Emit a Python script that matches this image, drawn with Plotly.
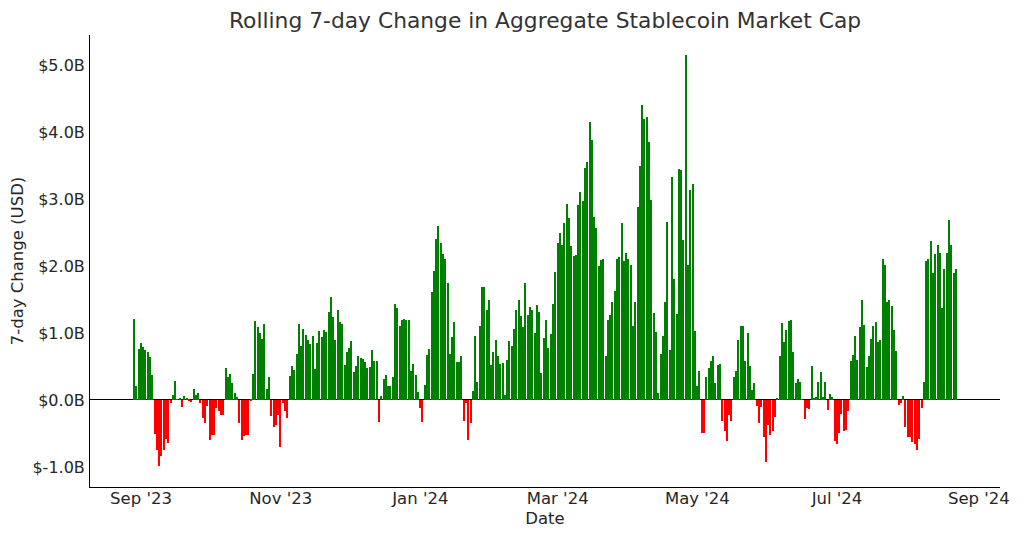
import pandas as pd
import plotly.graph_objects as go

start_date = "2023-08-29"

change_bn = [
    1.21, 0.21, 0.76, 0.85, 0.79, 0.74, 0.72, 0.64, 0.38, -0.51,
    -0.75, -0.98, -0.83, -0.75, -0.59, -0.65, -0.05, 0.08, 0.28, 0.01,
    0.03, -0.11, 0.06, 0.035, -0.01, -0.03, 0.17, 0.08, 0.10, -0.05,
    -0.27, -0.34, -0.09, -0.60, -0.52, -0.52, -0.12, -0.16, -0.22, -0.23,
    0.47, 0.35, 0.39, 0.25, 0.10, 0.045, -0.35, -0.60, -0.54, -0.53,
    -0.53, -0.01, 0.39, 1.18, 1.09, 1.00, 0.91, 1.13, 0.17, 0.35,
    -0.24, -0.41, -0.37, -0.22, -0.70, -0.05, -0.17, -0.27, 0.36, 0.50,
    0.44, 0.69, 1.13, 0.81, 1.06, 0.97, 0.90, 0.83, 0.95, 0.46,
    0.85, 1.03, 0.94, 1.04, 1.01, 1.31, 1.54, 1.24, 0.90, 1.35,
    1.17, 1.14, 0.52, 0.72, 0.78, 0.88, 0.41, 0.50, 0.65, 0.62,
    0.61, 0.56, 0.47, 0.49, 0.75, 0.58, 0.58, -0.33, 0.06, 0.31,
    0.38, 0.21, 0.21, 0.35, 1.44, 1.37, 1.10, 1.19, 1.21, 1.19,
    1.19, 0.43, 0.53, 0.37, 0.12, -0.12, -0.33, 0.22, 0.67, 0.76,
    1.61, 1.93, 2.40, 2.60, 2.35, 2.18, 2.11, 1.74, 0.68, 0.94,
    1.17, 0.57, 0.57, 0.65, -0.31, -0.04, -0.60, -0.35, 0.13, 0.96,
    0.27, 1.10, 1.69, 1.69, 1.34, 1.49, 0.52, 0.71, 0.90, 0.65,
    0.53, 0.55, 0.07, 0.60, 0.88, 0.81, 1.06, 1.34, 1.50, 1.25,
    1.09, 1.74, 1.27, 1.39, 1.34, 1.00, 1.42, 1.32, 0.40, 0.92,
    1.19, 0.77, 0.99, 1.43, 1.91, 2.35, 2.50, 2.32, 2.65, 2.92,
    2.72, 2.30, 2.15, 2.16, 2.91, 3.11, 2.97, 3.46, 3.55, 4.15,
    3.88, 2.73, 2.57, 2.00, 2.09, 2.11, 0.66, 1.20, 1.27, 1.46,
    1.62, 2.11, 2.14, 2.64, 2.08, 2.19, 2.10, 2.01, 1.11, 1.47,
    2.88, 3.50, 4.41, 4.20, 4.23, 3.85, 2.98, 1.30, 1.01, 0.11,
    0.69, 0.95, 1.46, 2.66, 0.75, 3.33, 1.80, 1.29, 3.45, 3.44,
    2.39, 5.15, 2.01, 3.14, 3.22, 1.03, 0.21, 0.43, -0.49, -0.49,
    0.35, 0.48, 0.58, 0.66, 0.25, 0.52, 0.53, -0.32, -0.47, -0.62,
    -0.22, -0.31, 0.35, 0.43, 0.90, 1.10, 1.10, 0.58, 1.00, 0.50,
    0.15, 0.25, -0.09, -0.35, -0.11, -0.55, -0.92, -0.37, -0.52, -0.47,
    -0.25, 0.02, 0.65, 1.15, 0.87, 1.05, 1.18, 1.19, 0.72, 0.26,
    0.32, 0.27, 0.01, -0.29, -0.12, -0.13, 0.50, 0.03, 0.05, 0.27,
    0.42, 0.04, 0.27, -0.15, 0.09, 0.04, -0.62, -0.66, -0.49, -0.21,
    -0.46, -0.45, -0.16, 0.58, 0.67, 0.95, 0.60, 1.09, 1.49, 1.12,
    0.49, 0.66, 0.91, 1.10, 1.16, 0.86, 0.90, 2.10, 2.01, 1.47,
    1.50, 1.40, 1.05, 0.73, -0.08, -0.05, 0.06, -0.41, -0.56, -0.56,
    -0.63, -0.66, -0.75, -0.59, -0.12, 0.27, 2.07, 2.10, 2.37, 1.90,
    2.18, 2.31, 2.20, 1.38, 1.96, 2.20, 2.69, 2.31, 1.90, 1.95,
]

x_tick_dates = ["2023-09-01", "2023-11-01", "2024-01-01", "2024-03-01",
                "2024-05-01", "2024-07-01", "2024-09-01"]
x_tick_labels = ["Sep '23", "Nov '23", "Jan '24", "Mar '24",
                 "May '24", "Jul '24", "Sep '24"]
y_tick_values = [-1.0, 0.0, 1.0, 2.0, 3.0, 4.0, 5.0]
y_tick_labels = ["$-1.0B", "$0.0B", "$1.0B", "$2.0B", "$3.0B", "$4.0B", "$5.0B"]

dates = pd.date_range(start_date, periods=len(change_bn), freq="D")
colors = ["green" if v >= 0 else "red" for v in change_bn]

fig = go.Figure()
fig.add_trace(go.Bar(
    x=dates, y=change_bn,
    marker=dict(color=colors, line=dict(width=0)),
    width=0.6 * 86400000,
    showlegend=False,
))

font_family = "DejaVu Sans"
fig.update_layout(
    width=1024, height=539,
    paper_bgcolor="white", plot_bgcolor="white",
    margin=dict(l=82, r=32, t=27, b=60),
    font=dict(family=font_family, size=16, color="#262626"),
    title=dict(text="Rolling 7-day Change in Aggregate Stablecoin Market Cap",
               xref="paper", x=0.5, xanchor="center",
               yref="container", y=0.978, yanchor="middle",
               font=dict(family=font_family, size=21.8, color="#333333")),
    bargap=0,
)
fig.update_xaxes(
    type="date",
    range=["2023-08-09 17:00", "2024-09-10 05:00"],
    tickvals=x_tick_dates, ticktext=x_tick_labels,
    tickfont=dict(size=16.5),
    showgrid=False, zeroline=False,
    showline=True, linecolor="black", linewidth=1,
    ticks="", ticklabelstandoff=-4, automargin=False,
    title=dict(text="Date", standoff=5, font=dict(size=16.5)),
)
fig.update_yaxes(
    range=[-1.30, 5.45],
    tickvals=y_tick_values, ticktext=y_tick_labels,
    tickfont=dict(size=16),
    showgrid=False,
    zeroline=True, zerolinecolor="black", zerolinewidth=1.3,
    showline=True, linecolor="black", linewidth=1,
    ticks="", ticklabelstandoff=1, automargin=False,
    title=dict(text="7-day Change (USD)", standoff=11, font=dict(size=16.5)),
)

fig.write_html("out.html")
